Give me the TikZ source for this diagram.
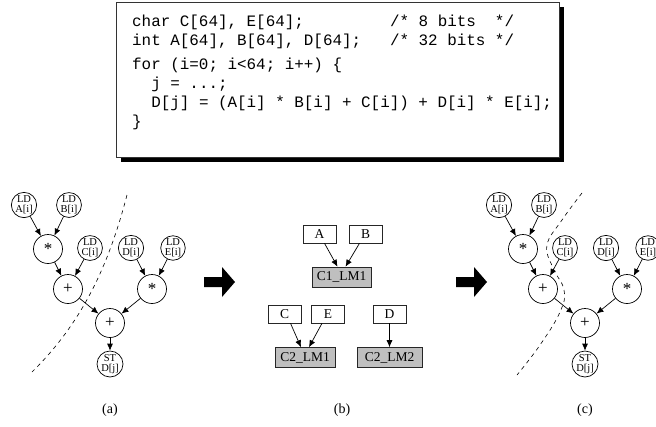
\documentclass[tikz,border=0pt]{standalone}
\usepackage{fontspec}
\setmainfont{Liberation Serif}
\setmonofont{Liberation Mono}
\usetikzlibrary{arrows.meta}

\begin{document}
\begin{tikzpicture}[x=1pt,y=-1pt,
  ld/.style={circle,draw,line width=.7pt,minimum size=24pt,inner sep=0pt,align=center,
    font=\fontsize{10.5}{10}\selectfont},
  op/.style={circle,draw,line width=.7pt,minimum size=29pt,inner sep=0pt,
    font=\fontsize{17}{17}\selectfont},
  arr/.style={-{Latex[length=7pt,width=6pt]},line width=.7pt},
  reg/.style={draw=black!85,line width=.6pt,minimum width=33pt,minimum height=18pt,
    inner sep=0pt,font=\fontsize{13.5}{13.5}\selectfont},
  clus/.style={reg,fill=black!25,minimum height=20pt},
  code/.style={anchor=base west,inner sep=0pt,font=\ttfamily\fontsize{15.9}{19}\selectfont},
  cut/.style={dash pattern=on 4pt off 4pt,line width=.6pt},
  subcap/.style={font=\fontsize{14}{14}\selectfont}]

\useasboundingbox (0,0) rectangle (656,426);

% code box with shadow
\fill (121,7) rectangle (564,162);
\draw[fill=white,line width=.8pt,draw=black!80] (116,2) rectangle (559,157);

\node[code] (l1) at (132,26)  {char C[64], E[64];};
\node[code] (l2) at (132,45)  {int A[64], B[64], D[64];};
\node[code] (c1) at (132+27*9.55,26) {/* 8 bits\ \ */};
\node[code] (c2) at (132+27*9.55,45) {/* 32 bits */};
\node[code] (l3) at (132,69)  {for (i=0; i<64; i++) \{};
\node[code] (l4) at (132+2*9.55,88)  {j = ...;};
\node[code] (l5) at (132+2*9.55,107) {D[j] = (A[i] * B[i] + C[i]) + D[i] * E[i];};
\node[code] (l6) at (132,126) {\}};

% data flow trees (a) and (c)
\foreach \p/\dx in {a/0,c/475} {
  \node[ld] (\p-lda) at (24+\dx,205)  {LD\\A[i]};
  \node[ld] (\p-ldb) at (69+\dx,205)  {LD\\B[i]};
  \node[op] (\p-m1)  at (48+\dx,249)  {*};
  \node[ld] (\p-ldc) at (90+\dx,248)  {LD\\C[i]};
  \node[ld] (\p-ldd) at (131+\dx,248) {LD\\D[i]};
  \node[ld] (\p-lde) at (173+\dx,248) {LD\\E[i]};
  \node[op] (\p-a1)  at (68+\dx,289)  {+};
  \node[op] (\p-m2)  at (152+\dx,289) {*};
  \node[op] (\p-a2)  at (110+\dx,323) {+};
  \node[ld] (\p-st)  at (110+\dx,364) {ST\\D[j]};

  \draw[arr] (\p-lda) -- (\p-m1);
  \draw[arr] (\p-ldb) -- (\p-m1);
  \draw[arr] (\p-m1) -- (\p-a1);
  \draw[arr] (\p-ldc) -- (\p-a1);
  \draw[arr] (\p-ldd) -- (\p-m2);
  \draw[arr] (\p-lde) -- (\p-m2);
  \draw[arr] (\p-a1) -- (\p-a2);
  \draw[arr] (\p-m2) -- (\p-a2);
  \draw[arr] (\p-a2) -- (\p-st);
}

% partition lines
\draw[cut] (127,195) .. controls (110,260) and (85,320) .. (32,372);
\draw[cut] plot[smooth,tension=.7] coordinates {(582,193) (562,220) (547,245)
  (553,268) (564,290) (560,312) (540,345) (517,375)};

% clusters (b)
\node[reg] (ra) at (319.5,234) {A};
\node[reg] (rb) at (365.5,234) {B};
\node[clus,minimum width=59pt] (c1lm1) at (341.5,277) {C1\_LM1};
\node[reg] (rc) at (284.5,314) {C};
\node[reg] (re) at (328,314)   {E};
\node[reg] (rd) at (389.5,314) {D};
\node[clus,minimum width=60pt] (c2lm1) at (305,357.5)   {C2\_LM1};
\node[clus,minimum width=65pt] (c2lm2) at (389.5,357.5) {C2\_LM2};

\draw[arr] ([xshift=5pt]ra.south) -- ([xshift=-4pt]c1lm1.north);
\draw[arr] ([xshift=-6pt]rb.south) -- ([xshift=4pt]c1lm1.north);
\draw[arr] ([xshift=6pt]rc.south) -- ([xshift=-4pt]c2lm1.north);
\draw[arr] ([xshift=-6pt]re.south) -- ([xshift=4pt]c2lm1.north);
\draw[arr] (rd) -- (c2lm2);

% big arrows
\foreach \dx in {0,252}
  \fill (204+\dx,277) -- (222+\dx,277) -- (222+\dx,267) -- (235+\dx,282)
    -- (222+\dx,297) -- (222+\dx,287) -- (204+\dx,287) -- cycle;

\node[subcap] (capa) at (110,410) {(a)};
\node[subcap] (capb) at (342,410) {(b)};
\node[subcap] (capc) at (585,410) {(c)};

\end{tikzpicture}
\end{document}
